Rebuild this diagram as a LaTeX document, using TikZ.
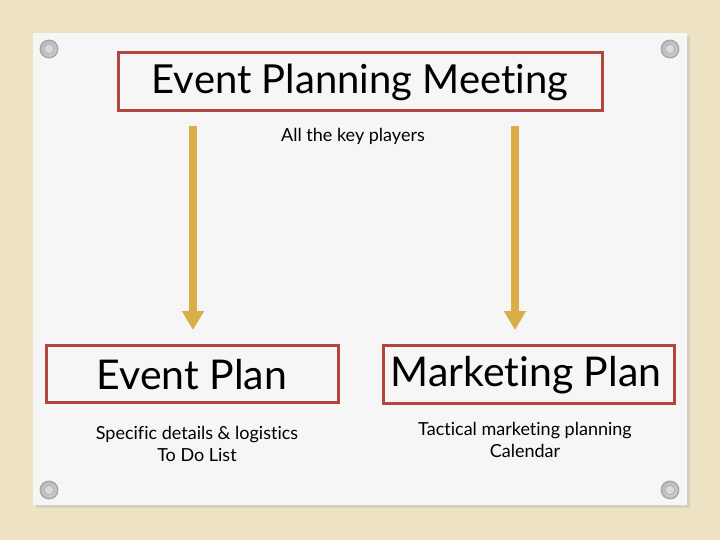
\documentclass[tikz,border=0pt]{standalone}
\usepackage{fontspec}
\setmainfont{Lato}[Ligatures=NoCommon]
\usetikzlibrary{arrows.meta,shadows}
\definecolor{bgbeige}{HTML}{EDE2C4}
\definecolor{cardwhite}{HTML}{F6F6F6}
\definecolor{boxred}{HTML}{B2463F}
\definecolor{arrowgold}{HTML}{D9AE47}
\tikzset{
  redbox/.style={draw=boxred, line width=3pt, fill=none, inner sep=0pt, anchor=center},
  goldarrow/.style={draw=arrowgold, line width=8pt, -{Triangle[width=21pt,length=19pt]}},
  bodytext/.style={align=center, font=\fontsize{18}{21.5}\selectfont, inner sep=0pt},
  grommet/.style={circle, minimum size=18pt, inner sep=0pt, draw=gray!75, line width=0.8pt, shade, inner color=gray!10, outer color=gray!60},
}
\begin{document}
\begin{tikzpicture}[x=1pt,y=-1pt]
  \useasboundingbox (0,0) rectangle (720,540);
  % background and card
  \fill[bgbeige] (0,0) rectangle (720,540);
  \fill[black!25, opacity=0.5] (36,36) rectangle (690,508);
  \fill[cardwhite] (33,33) rectangle (687,505);
  % grommets
  \foreach \gx/\gy [count=\i] in {49/49, 670/49, 49/490, 670/490}{
    \node[grommet] (g\i) at (\gx,\gy) {};
    \node[circle, minimum size=10pt, inner sep=0pt, fill=gray!30, draw=gray!70, line width=0.7pt] (gi\i) at (\gx,\gy) {};
  }
  % title
  \node[redbox, minimum width=484pt, minimum height=58pt] (title) at (360,82) {};
  \node[font=\fontsize{40}{44}\selectfont, inner sep=0pt] (titletext) at (360,82) {Event Planning Meeting};
  \node[bodytext] (players) at (353,136) {All the key players};
  % plan boxes
  \node[redbox, minimum width=292pt, minimum height=57pt] (eplan) at (192,373.5) {};
  \node[font=\fontsize{41}{44}\selectfont, inner sep=0pt] (eplantext) at (192,375) {Event Plan};
  \node[redbox, minimum width=291pt, minimum height=58pt] (mplan) at (528.5,374) {};
  \node[font=\fontsize{41}{44}\selectfont, inner sep=0pt] (mplantext) at (526,375) {Marketing Plan};
  % sub texts
  \node[bodytext] (edetail) at (197,444) {Specific details \& logistics\\To Do List};
  \node[bodytext] (mdetail) at (525,440) {Tactical marketing planning\\Calendar};
  % arrows
  \coordinate (la) at (193,126);
  \coordinate (lb) at (193,330);
  \coordinate (ra) at (515,126);
  \coordinate (rb) at (515,330);
  \draw[goldarrow] (la) -- (lb);
  \draw[goldarrow] (ra) -- (rb);
\end{tikzpicture}
\end{document}
